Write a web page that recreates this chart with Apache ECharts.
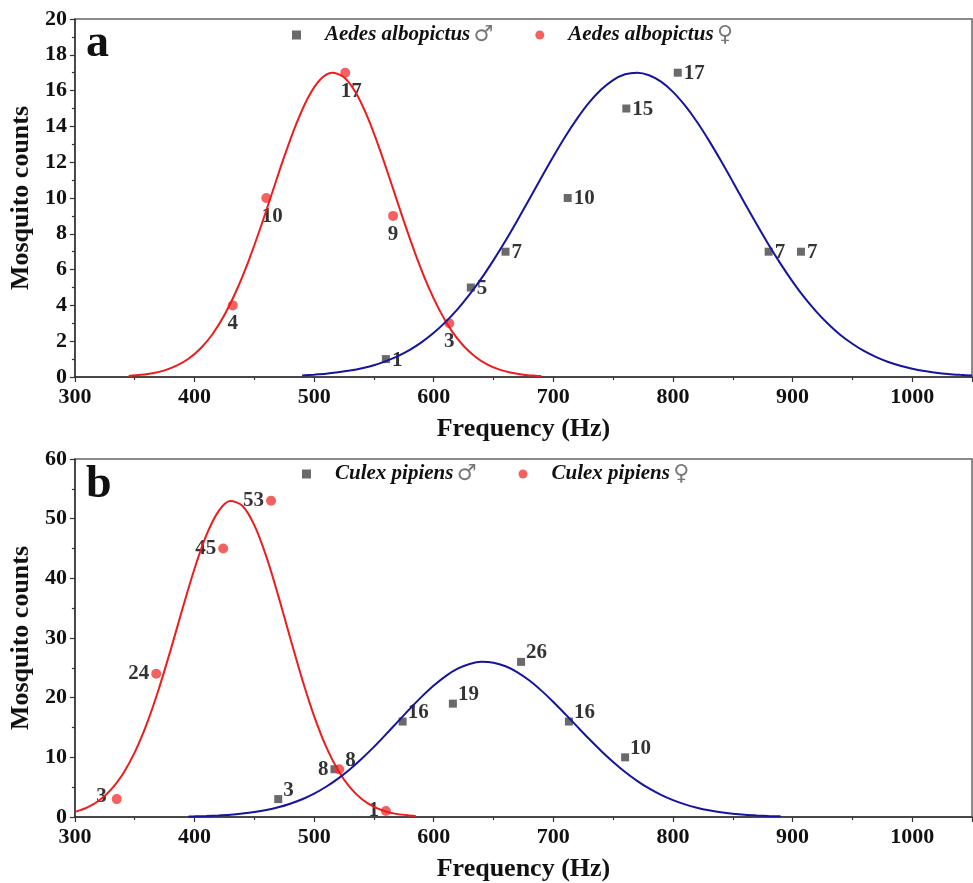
<!DOCTYPE html>
<html>
<head>
<meta charset="utf-8">
<script src="https://cdn.jsdelivr.net/npm/echarts@6/dist/echarts.min.js"></script>
<style>
  html, body { margin: 0; padding: 0; background: #fff; }
  #chart { width: 973px; height: 883px; }
</style>
</head>
<body>
<div id="chart"></div>
<script>
// panel a : Aedes albopictus
var aMaleX = [560, 631, 660, 712, 761, 804, 880, 907];
var aMaleY = [1, 5, 7, 10, 15, 17, 7, 7];
var aFemaleX = [432, 460, 526, 566, 613];
var aFemaleY = [4, 10, 17, 9, 3];

// fitted curves
var aFemaleFitX = [345, 355, 365, 375, 385, 395, 405, 415, 425, 435, 445, 455, 465, 475, 485, 495, 505, 515, 525, 535, 545, 555, 565, 575, 585, 595, 605, 615, 625, 635, 645, 655, 665, 675, 685, 690];
var aFemaleFitY = [0.06, 0.12, 0.21, 0.37, 0.63, 1.02, 1.59, 2.39, 3.46, 4.82, 6.45, 8.31, 10.31, 12.31, 14.13, 15.62, 16.61, 17, 16.74, 15.86, 14.46, 12.69, 10.72, 8.71, 6.81, 5.12, 3.71, 2.58, 1.73, 1.12, 0.69, 0.41, 0.24, 0.13, 0.07, 0.05];
var aMaleFitX = [490, 500, 510, 520, 530, 540, 550, 560, 570, 580, 590, 600, 610, 620, 630, 640, 650, 660, 670, 680, 690, 700, 710, 720, 730, 740, 750, 760, 770, 780, 790, 800, 810, 820, 830, 840, 850, 860, 870, 880, 890, 900, 910, 920, 930, 940, 950, 960, 970, 980, 990, 1000, 1010, 1020, 1030, 1040, 1050];
var aMaleFitY = [0.09, 0.13, 0.18, 0.26, 0.36, 0.49, 0.66, 0.89, 1.17, 1.52, 1.95, 2.47, 3.08, 3.79, 4.61, 5.52, 6.53, 7.61, 8.76, 9.95, 11.15, 12.32, 13.44, 14.45, 15.34, 16.06, 16.59, 16.91, 17, 16.86, 16.5, 15.93, 15.17, 14.26, 13.22, 12.09, 10.91, 9.71, 8.53, 7.39, 6.32, 5.33, 4.43, 3.64, 2.95, 2.35, 1.86, 1.44, 1.11, 0.84, 0.63, 0.46, 0.33, 0.24, 0.17, 0.12, 0.08];

// panel b : Culex pipiens
var bMaleX = [470, 517, 574, 616, 673, 713, 760];
var bMaleY = [3, 8, 16, 19, 26, 16, 10];
var bFemaleX = [335, 368, 424, 464, 521, 560];
var bFemaleY = [3, 24, 45, 53, 8, 1];

var bFemaleFitX = [300, 310, 320, 330, 340, 350, 360, 370, 380, 390, 400, 410, 420, 430, 440, 450, 460, 470, 480, 490, 500, 510, 520, 530, 540, 550, 560, 570, 580, 585];
var bFemaleFitY = [0.86, 1.57, 2.73, 4.54, 7.17, 10.82, 15.57, 21.37, 27.97, 34.93, 41.61, 47.27, 51.23, 52.95, 52.17, 48.92, 43.67, 37.1, 30.01, 23.1, 16.92, 11.8, 7.83, 4.95, 2.97, 1.7, 0.93, 0.48, 0.24, 0.16];
var bMaleFitX = [395, 400, 410, 420, 430, 440, 450, 460, 470, 480, 490, 500, 510, 520, 530, 540, 550, 560, 570, 580, 590, 600, 610, 620, 630, 640, 650, 660, 670, 680, 690, 700, 710, 720, 730, 740, 750, 760, 770, 780, 790, 800, 810, 820, 830, 840, 850, 860, 870, 880, 890];
var bMaleFitY = [0.09, 0.11, 0.17, 0.26, 0.38, 0.57, 0.82, 1.16, 1.62, 2.22, 2.97, 3.92, 5.07, 6.43, 8.01, 9.8, 11.75, 13.84, 15.99, 18.13, 20.17, 22.03, 23.62, 24.85, 25.65, 26, 25.85, 25.26, 24.25, 22.87, 21.18, 19.28, 17.24, 15.14, 13.06, 11.07, 9.22, 7.54, 6.06, 4.78, 3.71, 2.83, 2.12, 1.56, 1.12, 0.8, 0.56, 0.38, 0.26, 0.17, 0.11];

// where each value label sits next to its marker
var aMaleLabelPos = ['right', 'right', 'right', 'right', 'right', 'right', 'right', 'right'];
var aFemaleLabelPos = ['bottom', 'bottomRight', 'bottomRight', 'bottom', 'bottom'];
var bMaleLabelPos = ['topRight', 'left', 'topRight', 'topRight', 'topRight', 'topRight', 'topRight'];
var bFemaleLabelPos = ['leftUp', 'left', 'left', 'left', 'topRight', 'left'];

var serif = '"Liberation Serif", "Times New Roman", serif';
var squareColor = '#454545';
var dotColor = '#f23a3a';
var redLine = '#ee1c1c';
var blueLine = '#1414a0';

var labelPlace = {
    right: { position: 'right', distance: 2, offset: [0, 1] },
    left: { position: 'left', distance: 2, offset: [0, 0] },
    bottom: { position: 'bottom', distance: 3, offset: [0, 0] },
    bottomRight: { position: 'bottom', distance: 3, offset: [6, 0] },
    topRight: { position: 'right', distance: 1, offset: [0, -9] },
    leftUp: { position: 'left', distance: 5, offset: [0, -3] }
};

function pairs(xs, ys) {
    var out = [];
    for (var i = 0; i < xs.length; i++) out.push([xs[i], ys[i]]);
    return out;
}

function labelled(xs, ys, places) {
    var out = [];
    for (var i = 0; i < xs.length; i++) {
        var p = labelPlace[places[i]];
        out.push({
            value: [xs[i], ys[i]],
            label: { position: p.position, distance: p.distance, offset: p.offset }
        });
    }
    return out;
}

function plain(v) { return String(v); }

function xAxisFor(idx) {
    return {
        type: 'value', gridIndex: idx, min: 300, max: 1050, interval: 100,
        name: 'Frequency (Hz)', nameLocation: 'middle', nameGap: 39,
        nameTextStyle: { fontFamily: serif, fontWeight: 'bold', fontSize: 26, color: '#111' },
        axisLine: { onZero: false, lineStyle: { color: '#333', width: 1.5 } },
        axisTick: { length: 5, lineStyle: { color: '#333', width: 1.2 } },
        minorTick: { show: true, splitNumber: 2, length: 3, lineStyle: { color: '#333', width: 1.2 } },
        axisLabel: { showMaxLabel: false, margin: 9, formatter: plain, fontFamily: serif, fontWeight: 'bold', fontSize: 22, color: '#111' },
        splitLine: { show: false }
    };
}

function yAxisFor(idx, max, interval) {
    return {
        type: 'value', gridIndex: idx, min: 0, max: max, interval: interval,
        name: 'Mosquito counts', nameLocation: 'middle', nameGap: 30,
        nameTextStyle: { fontFamily: serif, fontWeight: 'bold', fontSize: 26, color: '#111' },
        axisLine: { show: true, lineStyle: { color: '#333', width: 1.5 } },
        axisTick: { show: true, length: 5, lineStyle: { color: '#333', width: 1.2 } },
        minorTick: { show: true, splitNumber: 2, length: 3, lineStyle: { color: '#333', width: 1.2 } },
        axisLabel: { margin: 8, formatter: plain, fontFamily: serif, fontWeight: 'bold', fontSize: 22, color: '#111' },
        splitLine: { show: false }
    };
}

function legendFor(left, top, names) {
    return {
        left: left, top: top, orient: 'horizontal', itemGap: 42,
        itemWidth: 9, itemHeight: 9,
        data: names,
        formatter: function (name) {
            var sym = name.slice(-1);
            return '{n|' + name.slice(0, -2) + '} {s|' + sym + '}';
        },
        textStyle: {
            rich: {
                n: { fontFamily: serif, fontStyle: 'italic', fontWeight: 'bold', fontSize: 21, color: '#111', padding: [0, 0, 0, 19], lineHeight: 24 },
                s: { fontFamily: '"DejaVu Sans", sans-serif', fontSize: 22, color: '#777', lineHeight: 24 }
            }
        }
    };
}

function pointSeries(name, idx, xs, ys, places, symbol, size, color) {
    return {
        name: name, type: 'scatter', xAxisIndex: idx, yAxisIndex: idx,
        symbol: symbol, symbolSize: size,
        itemStyle: { color: color },
        label: {
            show: true,
            formatter: function (p) { return p.value[1]; },
            fontFamily: serif, fontWeight: 'bold', fontSize: 21, color: '#000'
        },
        data: labelled(xs, ys, places),
        z: 2
    };
}

function curveSeries(idx, xs, ys, color) {
    return {
        type: 'line', xAxisIndex: idx, yAxisIndex: idx,
        smooth: 0.3, showSymbol: false, silent: true,
        lineStyle: { color: color, width: 2 },
        data: pairs(xs, ys),
        z: 3
    };
}

var chart = echarts.init(document.getElementById('chart'), null, { renderer: 'canvas' });

var option = {
    backgroundColor: '#fff',
    animation: false,
    title: [
        { text: 'a', left: 81, top: 16, textStyle: { fontFamily: serif, fontWeight: 'bold', fontSize: 46, color: '#111' } },
        { text: 'b', left: 81, top: 457, textStyle: { fontFamily: serif, fontWeight: 'bold', fontSize: 46, color: '#111' } }
    ],
    legend: [
        legendFor(287, 19, ['Aedes albopictus ♂', 'Aedes albopictus ♀']),
        legendFor(297, 458, ['Culex pipiens ♂', 'Culex pipiens ♀'])
    ],
    grid: [
        { left: 74, top: 19, width: 898, height: 358, show: true, borderColor: '#666', borderWidth: 1.5 },
        { left: 74, top: 459, width: 898, height: 358, show: true, borderColor: '#666', borderWidth: 1.5 }
    ],
    xAxis: [xAxisFor(0), xAxisFor(1)],
    yAxis: [yAxisFor(0, 20, 2), yAxisFor(1, 60, 10)],
    series: [
        pointSeries('Aedes albopictus ♂', 0, aMaleX, aMaleY, aMaleLabelPos, 'rect', 8, squareColor),
        pointSeries('Aedes albopictus ♀', 0, aFemaleX, aFemaleY, aFemaleLabelPos, 'circle', 10, dotColor),
        curveSeries(0, aFemaleFitX, aFemaleFitY, redLine),
        curveSeries(0, aMaleFitX, aMaleFitY, blueLine),
        pointSeries('Culex pipiens ♂', 1, bMaleX, bMaleY, bMaleLabelPos, 'rect', 8, squareColor),
        pointSeries('Culex pipiens ♀', 1, bFemaleX, bFemaleY, bFemaleLabelPos, 'circle', 10, dotColor),
        curveSeries(1, bFemaleFitX, bFemaleFitY, redLine),
        curveSeries(1, bMaleFitX, bMaleFitY, blueLine)
    ]
};

chart.setOption(option);

window.addEventListener('resize', function () {
    if (chart != null && chart != undefined) {
        chart.resize();
    }
});
</script>
</body>
</html>
